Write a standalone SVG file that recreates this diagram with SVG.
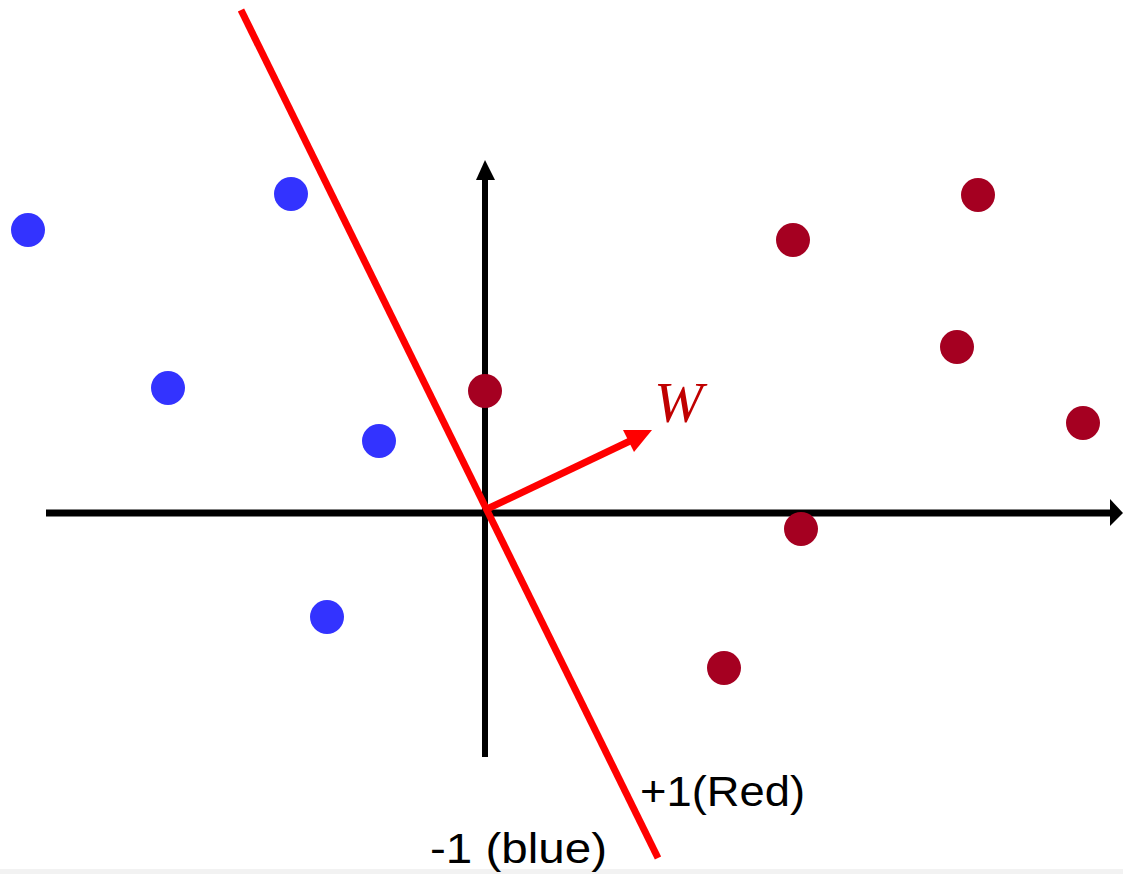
<svg xmlns="http://www.w3.org/2000/svg" width="1123" height="874" viewBox="0 0 1123 874">
<style>
.blue{fill:#3333ff}
.red{fill:#a50021}
.lbl{font-family:"Liberation Sans",Arial,sans-serif;font-size:42px;fill:#000}
</style>
<rect width="1123" height="874" fill="#fff"/>
<rect x="0" y="869" width="1123" height="5" fill="#f2f2f2"/>
<g id="connectors">
<line x1="46" y1="513" x2="1111" y2="513" stroke="#000" stroke-width="7"/>
<polygon points="1110,499 1123,513 1110,526" fill="#000"/>
<line x1="485" y1="757" x2="485" y2="177" stroke="#000" stroke-width="6"/>
<polygon points="476,180 485,160 495,180" fill="#000"/>
<line x1="241" y1="10" x2="658" y2="858" stroke="#ff0000" stroke-width="7"/>
<line x1="485" y1="510" x2="630" y2="441" stroke="#ff0000" stroke-width="7"/>
<polygon points="623,430 652,430 634,452" fill="#ff0000"/>
</g>
<g id="blue-points">
<circle class="blue" cx="28" cy="230" r="17"/>
<circle class="blue" cx="291" cy="194" r="17"/>
<circle class="blue" cx="168" cy="388" r="17"/>
<circle class="blue" cx="379" cy="441" r="17"/>
<circle class="blue" cx="327" cy="617" r="17"/>
</g>
<g id="red-points">
<circle class="red" cx="485" cy="391" r="17"/>
<circle class="red" cx="793" cy="240" r="17"/>
<circle class="red" cx="978" cy="195" r="17"/>
<circle class="red" cx="957" cy="347" r="17"/>
<circle class="red" cx="1083" cy="423" r="17"/>
<circle class="red" cx="801" cy="529" r="17"/>
<circle class="red" cx="724" cy="668" r="17"/>
</g>
<g id="label-w">
<text x="654" y="422" font-family="'Liberation Serif','DejaVu Serif',serif" font-style="italic" font-size="56" fill="#c00000" textLength="49" lengthAdjust="spacingAndGlyphs">W</text>
</g>
<g id="label-red">
<text class="lbl" x="640" y="806" textLength="165" lengthAdjust="spacingAndGlyphs">+1(Red)</text>
</g>
<g id="label-blue">
<text class="lbl" x="430" y="863" textLength="177" lengthAdjust="spacingAndGlyphs">-1 (blue)</text>
</g>
</svg>
